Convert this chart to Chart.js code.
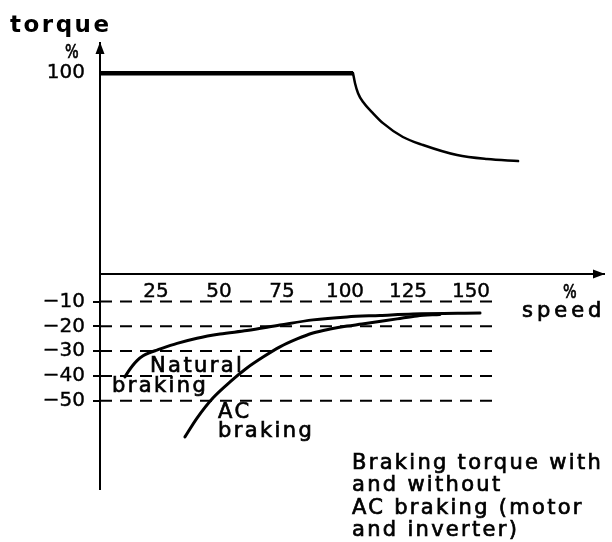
<!DOCTYPE html>
<html>
<head>
<meta charset="utf-8">
<script src="https://cdn.jsdelivr.net/npm/chart.js@4"></script>
<style>
    html, body { margin: 0; padding: 0; background: #fff; }
    #wrap { width: 612px; height: 542px; }
</style>
</head>
<body>
<div id="wrap"><canvas id="torqueChart"></canvas></div>
<script>
// Torque / speed: motoring curve on top, braking curves below the speed axis
var speedTicks = [25, 50, 75, 100, 125, 150];
var torqueTicks = [100];
var brakeTicks = [-10, -20, -30, -40, -50];

var constSpeed = [0, 100.4];
var constTorque = [100, 100];

var weakSpeed = [100.4, 101.2, 102.4, 104.4, 108.3, 112.3, 120.2, 128.2, 141.7, 153.6, 165.9];
var weakTorque = [100, 95, 90, 85.6, 80.1, 75.1, 68.2, 64.2, 59.2, 57.2, 56.2];

var naturalSpeed = [9.9, 11.2, 12.9, 14.7, 17.1, 19.8, 22.6, 30.6, 38.5, 47.6, 58.3, 71.4, 84.5, 98, 111.1, 124.2, 150.8];
var naturalTorque = [-40.4, -38.3, -35.9, -33.8, -31.9, -30.6, -29.6, -26.9, -24.8, -23.1, -21.7, -19.5, -17.4, -16.2, -15.6, -15, -14.6];

var acSpeed = [33.7, 38.5, 44.8, 51.6, 58.3, 64.7, 71.4, 78.2, 84.5, 91.3, 98, 104, 117.9, 125.8, 134.9];
var acTorque = [-64.6, -57, -48.9, -42.4, -36.8, -32.4, -28.3, -25.1, -22.7, -21.1, -19.9, -19.1, -17, -15.8, -15.2];

var gridEndSpeed = 158;

var FONT = '"DejaVu Sans", sans-serif';

function pts(xs, ys) {
    return xs.map(function (x, i) { return { x: x, y: ys[i] }; });
}

function curve(data, axis, width) {
    return {
        data: data,
        yAxisID: axis,
        borderColor: '#000',
        borderWidth: width,
        pointRadius: 0,
        fill: false,
        cubicInterpolationMode: 'monotone',
        borderCapStyle: 'round',
        borderJoinStyle: 'round'
    };
}

var datasets = [
    curve(pts(constSpeed, constTorque), 'yTop', 4.5),
    curve(pts(weakSpeed, weakTorque), 'yTop', 2.5),
    curve(pts(naturalSpeed, naturalTorque), 'yLow', 3),
    curve(pts(acSpeed, acTorque), 'yLow', 3)
];
datasets[0].borderCapStyle = 'butt';
brakeTicks.forEach(function (lvl) {
    var ds = curve([{ x: 0, y: lvl }, { x: gridEndSpeed, y: lvl }], 'yLow', 2);
    ds.borderDash = [12, 8];
    ds.borderCapStyle = 'butt';
    datasets.push(ds);
});

// free text around the plot
var texts = [
    { t: 'torque', x: 10, y: 32, size: 23, bold: true, sp: 2.5 },
    { t: '%', x: 65, y: 58, size: 20, sp: 0, sx: 0.72 },
    { t: 'Natural', x: 150, y: 372, size: 21, sp: 2.4 },
    { t: 'braking', x: 112, y: 392, size: 21, sp: 2.4 },
    { t: 'AC', x: 218, y: 418, size: 21, sp: 2.4 },
    { t: 'braking', x: 218, y: 437, size: 21, sp: 2.4 },
    { t: 'Braking torque with', x: 352, y: 469, size: 21, sp: 2.3 },
    { t: 'and without', x: 352, y: 491, size: 21, sp: 2.3 },
    { t: 'AC braking (motor', x: 352, y: 514, size: 21, sp: 2.3 },
    { t: 'and inverter)', x: 352, y: 536, size: 21, sp: 2.3 },
    { t: '%', x: 563, y: 298, size: 20, sp: 0, sx: 0.72 },
    { t: 'speed', x: 522, y: 317, size: 21, sp: 4 }
];

var decorPlugin = {
    id: 'decor',
    afterDraw: function (chart) {
        var ctx = chart.ctx, a = chart.chartArea;
        var y0 = chart.scales.yTop.getPixelForValue(0);
        ctx.save();
        ctx.fillStyle = '#000';
        ctx.strokeStyle = '#000';
        // arrow heads on both axes
        ctx.beginPath();
        ctx.moveTo(a.left, a.top - 1);
        ctx.lineTo(a.left - 4.5, a.top + 11);
        ctx.lineTo(a.left + 4.5, a.top + 11);
        ctx.closePath();
        ctx.fill();
        ctx.beginPath();
        ctx.moveTo(a.right + 1, y0);
        ctx.lineTo(a.right - 11, y0 - 4.5);
        ctx.lineTo(a.right - 11, y0 + 4.5);
        ctx.closePath();
        ctx.fill();

        ctx.textAlign = 'left';
        ctx.textBaseline = 'alphabetic';
        ctx.lineWidth = 0.7;
        texts.forEach(function (o) {
            ctx.save();
            ctx.font = (o.bold ? 'bold ' : '') + o.size + 'px ' + FONT;
            ctx.letterSpacing = o.sp + 'px';
            ctx.translate(o.x, o.y);
            if (o.sx) ctx.scale(o.sx, 1);
            ctx.fillText(o.t, 0, 0);
            if (!o.bold) ctx.strokeText(o.t, 0, 0);
            ctx.restore();
        });
        ctx.restore();
    }
};

function fixWidth(scale) { scale.width = 100; }

var tickFont = { family: FONT, size: 20 };

new Chart(document.getElementById('torqueChart'), {
    type: 'line',
    data: { datasets: datasets },
    plugins: [decorPlugin],
    options: {
        responsive: true,
        maintainAspectRatio: false,
        animation: false,
        layout: { padding: { top: 43, right: 8, bottom: 53, left: 0 } },
        plugins: { legend: { display: false }, tooltip: { enabled: false } },
        scales: {
            x: {
                type: 'linear',
                min: 0,
                max: 200,
                position: { yTop: 0 },
                afterBuildTicks: function (s) { s.ticks = speedTicks.map(function (v) { return { value: v }; }); },
                grid: { display: false, drawTicks: false },
                border: { display: true, color: '#000', width: 2 },
                ticks: {
                    color: '#000', font: tickFont, padding: 6, labelOffset: -7,
                    maxRotation: 0, autoSkip: false, textStrokeColor: '#000', textStrokeWidth: 0.4
                }
            },
            yLow: {
                type: 'linear',
                position: 'left',
                stack: 'torque',
                stackWeight: 215,
                min: -85.6,
                max: 1.1,
                afterBuildTicks: function (s) { s.ticks = brakeTicks.map(function (v) { return { value: v }; }); },
                afterFit: fixWidth,
                grid: { display: true, drawOnChartArea: false, drawTicks: true, tickLength: 7, color: '#000', lineWidth: 2 },
                border: { display: true, color: '#000', width: 2 },
                ticks: {
                    color: '#000', font: tickFont, padding: 8, autoSkip: false,
                    textStrokeColor: '#000', textStrokeWidth: 0.4,
                    callback: function (v) { return '\u2212' + Math.abs(v); }
                }
            },
            yTop: {
                type: 'linear',
                position: 'left',
                stack: 'torque',
                stackWeight: 231,
                min: 0,
                max: 115,
                afterBuildTicks: function (s) { s.ticks = torqueTicks.map(function (v) { return { value: v }; }); },
                afterFit: fixWidth,
                grid: { display: false, drawTicks: false },
                border: { display: true, color: '#000', width: 2 },
                ticks: {
                    color: '#000', font: tickFont, padding: 15, autoSkip: false,
                    textStrokeColor: '#000', textStrokeWidth: 0.4
                }
            }
        }
    }
});
</script>
</body>
</html>
